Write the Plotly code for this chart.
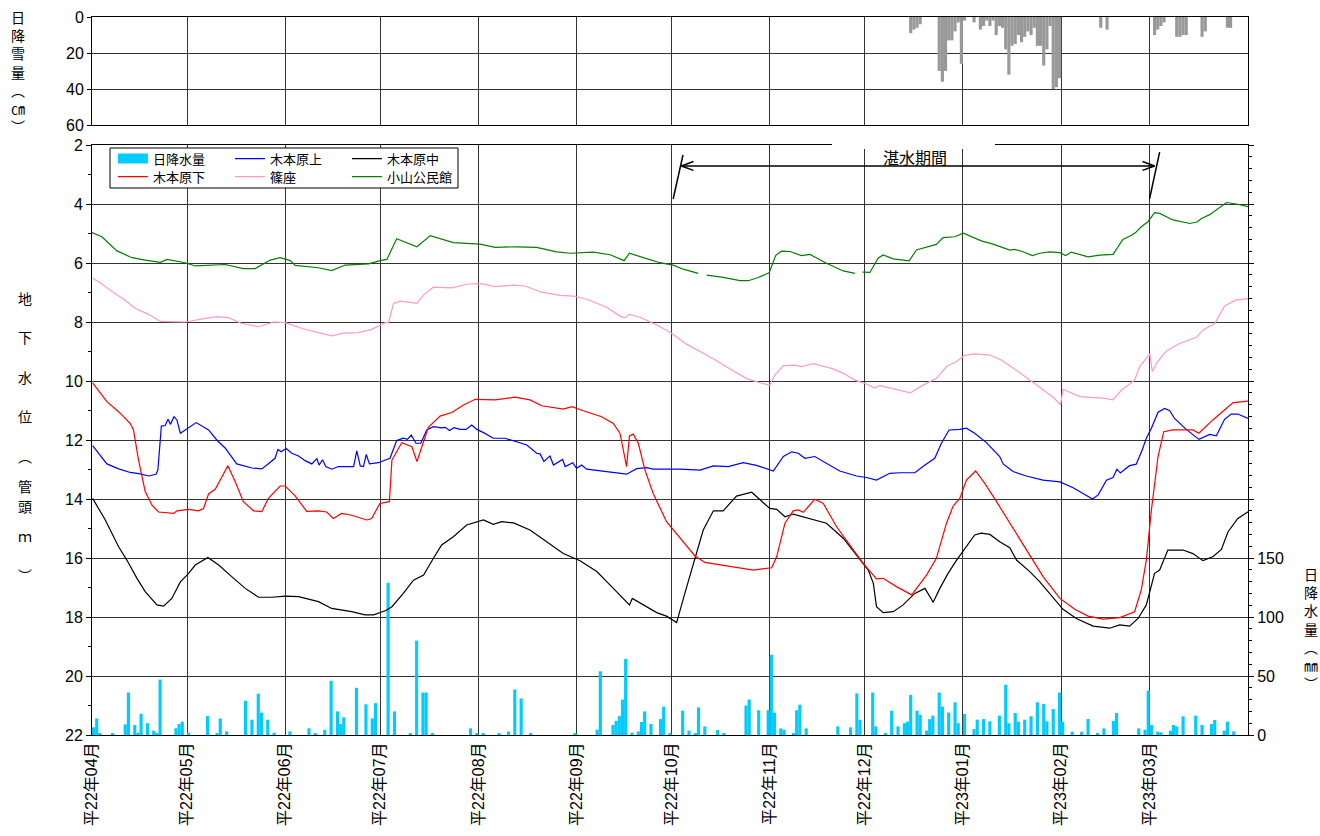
import pandas as pd
import plotly.graph_objects as go

BASE = pd.Timestamp("2010-04-01")
DAY_MS = 86400000

month_labels = ["平22年04月", "平22年05月", "平22年06月", "平22年07月", "平22年08月", "平22年09月",
                "平22年10月", "平22年11月", "平22年12月", "平23年01月", "平23年02月", "平23年03月"]

# groundwater level (m below casing top); x = days since 2010-04-01
kami_day = [0.2, 4.7, 8.4, 12.1, 15.2, 17.9, 20.2, 20.8, 21.9, 23.1, 24.0, 24.8, 25.9, 26.8, 27.9, 30.5, 32.9,
            36.8, 39.4, 42.1, 45.7, 50.5, 53.6, 55.2, 57.8, 58.7, 59.7, 61.3, 63.1, 65.2, 67.3, 69.4, 71.0,
            71.7, 72.8, 73.8, 75.7, 77.8, 82.6, 83.6, 84.7, 85.7, 86.6, 87.6, 90.5, 92.6, 94.1, 96.2, 98.3,
            99.6, 100.8, 102.3, 103.8, 105.7, 107.8, 110.4, 111.5, 112.9, 114.3, 116.2, 118.1, 119.9, 121.5,
            123.6, 126.7, 130.4, 133.1, 137.3, 140.4, 141.5, 142.7, 144.6, 145.7, 148.6, 149.4, 151.8, 153.0,
            154.6, 156.2, 160.4, 164.6, 168.8, 172.0, 175.1, 177.2, 185.6, 192.0, 196.2, 200.9, 205.6, 209.8,
            215.1, 218.3, 220.9, 223.0, 225.1, 228.2, 231.9, 236.1, 241.4, 244.5, 247.7, 251.9, 255.1, 259.8,
            263.0, 266.1, 268.2, 270.6, 274.0, 276.1, 278.7, 282.4, 286.6, 287.7, 290.8, 295.0, 300.3, 305.6,
            309.8, 315.9, 317.7, 320.3, 322.4, 323.6, 324.7, 327.6, 329.7, 331.6, 332.9, 334.5, 336.6, 338.7,
            340.3, 341.8, 345.5, 349.5, 352.9, 355.0, 357.6, 359.7, 361.8, 365.0]
kami_val = [12.19, 12.81, 12.98, 13.10, 13.15, 13.22, 13.16, 13.02, 11.53, 11.51, 11.30, 11.47, 11.21, 11.32,
            11.77, 11.58, 11.41, 11.66, 12.00, 12.28, 12.81, 12.95, 12.98, 12.85, 12.62, 12.32, 12.40, 12.29,
            12.45, 12.54, 12.70, 12.81, 12.63, 12.85, 12.67, 12.90, 12.99, 12.90, 12.90, 12.37, 12.88, 12.90,
            12.49, 12.81, 12.77, 12.68, 12.62, 12.02, 11.94, 11.98, 11.83, 12.11, 12.11, 11.66, 11.55, 11.59,
            11.57, 11.68, 11.58, 11.64, 11.64, 11.49, 11.64, 11.75, 11.94, 11.94, 12.02, 12.17, 12.45, 12.47,
            12.73, 12.54, 12.85, 12.66, 12.90, 12.77, 12.96, 12.85, 12.99, 13.05, 13.10, 13.16, 12.97, 12.94,
            12.99, 12.99, 13.02, 12.88, 12.90, 12.77, 12.86, 13.05, 12.56, 12.40, 12.45, 12.62, 12.56, 12.79,
            13.05, 13.22, 13.27, 13.36, 13.13, 13.11, 13.11, 12.85, 12.62, 12.11, 11.66, 11.64, 11.60, 11.77,
            12.09, 12.56, 12.81, 13.07, 13.22, 13.36, 13.42, 13.62, 14.00, 13.86, 13.36, 13.27, 12.99, 13.12,
            12.87, 12.82, 12.34, 11.94, 11.60, 11.06, 10.93, 11.01, 11.27, 11.64, 11.98, 11.81, 11.86, 11.30,
            11.12, 11.12, 11.27]

naka_day = [0.2, 4.2, 8.4, 11.0, 14.2, 16.8, 20.5, 22.6, 25.2, 27.9, 30.5, 32.6, 36.6, 40.0, 44.2, 48.4, 52.6,
            56.8, 61.0, 65.2, 71.5, 75.7, 82.0, 86.2, 88.9, 92.6, 94.7, 98.3, 101.5, 104.7, 107.8, 110.4,
            114.1, 118.3, 123.6, 126.7, 129.4, 133.1, 138.3, 142.5, 148.8, 154.1, 159.4, 164.6, 169.7, 170.6,
            174.1, 178.3, 181.4, 184.6, 187.2, 189.9, 193.0, 196.2, 199.3, 203.5, 208.3, 211.9, 214.0, 216.2,
            218.8, 221.4, 227.7, 231.9, 237.2, 241.4, 245.1, 246.7, 247.7, 249.8, 253.0, 256.1, 259.8, 263.0,
            265.6, 267.7, 270.3, 273.0, 276.1, 278.7, 280.8, 283.5, 286.6, 289.8, 291.9, 296.1, 299.2, 302.4,
            306.6, 310.8, 316.1, 321.3, 324.5, 327.6, 330.3, 332.9, 335.5, 337.1, 339.7, 344.5, 347.6, 350.8,
            354.0, 356.6, 358.7, 361.8, 365.0]
naka_val = [13.98, 14.71, 15.62, 16.07, 16.69, 17.14, 17.59, 17.63, 17.37, 16.81, 16.52, 16.24, 15.98, 16.24,
            16.64, 17.03, 17.33, 17.33, 17.29, 17.31, 17.48, 17.71, 17.82, 17.93, 17.93, 17.79, 17.65, 17.20,
            16.75, 16.58, 16.01, 15.56, 15.28, 14.88, 14.71, 14.86, 14.77, 14.81, 15.05, 15.37, 15.85, 16.09,
            16.46, 17.03, 17.59, 17.37, 17.59, 17.85, 17.97, 18.19, 17.19, 16.18, 15.05, 14.40, 14.40, 13.90,
            13.77, 14.12, 14.32, 14.35, 14.60, 14.51, 14.69, 14.82, 15.33, 15.90, 16.41, 16.86, 17.65, 17.85,
            17.82, 17.59, 17.20, 17.03, 17.50, 17.03, 16.52, 16.07, 15.62, 15.22, 15.16, 15.20, 15.45, 15.65,
            16.07, 16.46, 16.80, 17.20, 17.74, 18.05, 18.31, 18.38, 18.27, 18.31, 18.05, 17.59, 16.52, 16.41,
            15.73, 15.73, 15.85, 16.09, 15.95, 15.71, 15.11, 14.66, 14.43]

shimo_day = [0.2, 4.7, 8.4, 12.1, 13.1, 14.7, 16.8, 18.9, 21.0, 25.8, 26.8, 30.5, 33.6, 35.2, 36.8, 38.9, 42.9,
             45.2, 47.8, 51.0, 53.6, 55.7, 59.4, 61.0, 64.2, 67.8, 71.5, 74.1, 76.2, 78.8, 82.0, 86.8, 88.3,
             90.9, 93.9, 94.7, 97.8, 101.0, 102.6, 104.1, 106.2, 109.9, 113.6, 117.3, 121.0, 127.3, 133.6,
             138.3, 142.0, 148.8, 151.5, 155.1, 160.9, 164.6, 166.7, 168.8, 169.7, 170.9, 172.5, 174.6, 177.2,
             181.4, 185.7, 190.4, 193.5, 201.4, 208.8, 214.6, 216.2, 218.8, 221.4, 223.0, 224.6, 228.2, 230.9,
             235.1, 239.3, 243.5, 247.7, 249.8, 254.0, 258.8, 263.5, 266.6, 269.8, 271.9, 274.0, 276.1, 279.0,
             281.9, 285.6, 289.8, 295.0, 300.3, 305.6, 310.3, 314.5, 319.2, 324.5, 329.2, 331.3, 332.9, 334.5,
             336.6, 338.4, 341.3, 347.6, 349.5, 353.9, 357.1, 360.3, 365.0]
shimo_val = [10.06, 10.70, 11.04, 11.44, 11.66, 12.68, 13.75, 14.20, 14.44, 14.49, 14.40, 14.35, 14.40, 14.32,
             13.83, 13.67, 12.87, 13.41, 14.09, 14.40, 14.43, 13.98, 13.56, 13.56, 13.90, 14.42, 14.40, 14.44,
             14.66, 14.49, 14.55, 14.71, 14.66, 14.15, 14.09, 12.68, 12.09, 12.23, 12.73, 12.23, 11.57, 11.19,
             11.07, 10.81, 10.62, 10.64, 10.55, 10.64, 10.84, 10.95, 10.87, 11.01, 11.21, 11.44, 11.77, 12.90,
             11.86, 11.80, 12.11, 13.02, 13.81, 14.77, 15.33, 15.93, 16.15, 16.29, 16.41, 16.33, 15.95, 14.82,
             14.40, 14.37, 14.45, 14.01, 14.15, 14.94, 15.56, 16.18, 16.71, 16.69, 16.97, 17.25, 16.58, 16.01,
             14.82, 14.24, 13.98, 13.36, 13.05, 13.47, 14.09, 14.82, 15.73, 16.63, 17.37, 17.74, 17.97, 18.07,
             18.02, 17.82, 17.08, 16.07, 14.37, 12.56, 11.72, 11.66, 11.66, 11.77, 11.32, 11.04, 10.73, 10.68]

shinoza_day = [0.2, 2.6, 6.3, 10.0, 13.7, 17.9, 21.6, 29.4, 35.8, 39.4, 43.1, 47.3, 52.6, 57.3, 61.0, 66.3,
               71.5, 75.7, 79.4, 84.1, 88.3, 92.6, 93.6, 95.2, 97.3, 102.6, 104.7, 107.8, 113.6, 118.3, 122.3,
               127.3, 133.1, 136.7, 142.0, 147.8, 152.0, 156.2, 162.5, 166.7, 168.3, 169.7, 173.0, 178.3, 182.5,
               187.7, 193.0, 197.2, 202.0, 206.7, 210.9, 214.0, 215.6, 218.3, 221.9, 224.0, 227.7, 234.0, 237.2,
               240.9, 244.5, 246.9, 248.8, 254.0, 258.4, 262.4, 266.6, 269.8, 273.0, 275.6, 278.7, 283.5, 287.1,
               292.4, 296.1, 300.3, 303.5, 305.8, 306.6, 311.9, 315.5, 319.2, 322.4, 325.0, 329.2, 330.8, 334.0,
               334.8, 336.1, 339.2, 343.4, 348.7, 350.8, 354.5, 357.6, 361.3, 365.0]
shinoza_val = [6.52, 6.67, 6.97, 7.23, 7.54, 7.74, 7.98, 8.00, 7.88, 7.82, 7.85, 8.05, 8.16, 8.00, 8.02, 8.22,
               8.36, 8.47, 8.38, 8.36, 8.25, 8.02, 8.02, 7.37, 7.29, 7.37, 7.08, 6.82, 6.84, 6.72, 6.69, 6.80,
               6.75, 6.78, 6.99, 7.10, 7.12, 7.23, 7.50, 7.80, 7.86, 7.74, 7.84, 8.10, 8.35, 8.75, 9.06, 9.31,
               9.63, 9.92, 10.06, 10.14, 9.80, 9.48, 9.46, 9.51, 9.41, 9.59, 9.74, 9.97, 10.10, 10.23, 10.16,
               10.28, 10.40, 10.14, 9.91, 9.51, 9.34, 9.13, 9.08, 9.12, 9.29, 9.68, 9.97, 10.31, 10.55, 10.81,
               10.28, 10.53, 10.55, 10.58, 10.64, 10.31, 9.97, 9.51, 9.08, 9.68, 9.40, 8.98, 8.73, 8.52, 8.27,
               8.05, 7.46, 7.25, 7.21]

koyama_day = [0.0, 3.1, 7.9, 12.6, 16.8, 21.6, 23.7, 29.4, 32.6, 42.1, 47.8, 51.5, 56.3, 59.4, 62.6, 64.2,
              71.5, 75.7, 79.9, 87.3, 91.0, 93.1, 96.2, 102.6, 106.8, 114.1, 122.5, 127.3, 134.1, 140.4, 146.7,
              151.0, 158.3, 163.6, 168.0, 169.7, 175.1, 179.3, 183.5, 186.7, 191.4, 192.7, 194.1, 199.3, 204.6,
              207.2, 210.4, 213.8, 215.9, 217.7, 220.4, 224.0, 226.7, 231.9, 237.2, 240.9, 242.1, 243.3, 245.6,
              248.2, 249.8, 253.0, 258.0, 260.3, 266.6, 268.7, 272.4, 275.1, 277.2, 280.8, 284.5, 288.2, 289.8,
              291.4, 294.0, 296.9, 299.2, 302.4, 305.6, 307.4, 309.2, 314.5, 318.2, 322.4, 325.5, 328.2, 329.5,
              331.3, 333.4, 335.5, 337.1, 341.3, 346.6, 348.9, 350.3, 352.9, 355.0, 358.2, 361.3, 365.0]
koyama_val = [4.97, 5.11, 5.59, 5.82, 5.90, 5.98, 5.88, 5.99, 6.10, 6.05, 6.19, 6.19, 5.90, 5.82, 5.92, 6.08,
              6.16, 6.26, 6.07, 6.03, 5.92, 5.88, 5.18, 5.45, 5.07, 5.31, 5.36, 5.47, 5.45, 5.47, 5.62, 5.67,
              5.63, 5.72, 5.92, 5.67, 5.85, 5.99, 6.07, 6.21, 6.35, None, 6.41, 6.49, 6.60, 6.60, 6.49, 6.33,
              5.74, 5.60, 5.61, 5.75, 5.71, 6.01, 6.27, 6.35, None, 6.31, 6.32, 5.84, 5.73, 5.86, 5.93, 5.56,
              5.37, 5.14, 5.11, 4.99, 5.08, 5.25, 5.36, 5.50, 5.56, 5.54, 5.62, 5.75, 5.67, 5.62, 5.65, 5.75,
              5.63, 5.79, 5.73, 5.71, 5.20, 5.06, 4.97, 4.77, 4.60, 4.29, 4.32, 4.54, 4.66, 4.61, 4.49, 4.36,
              4.20, 3.95, 4.00, 4.09]

# daily precipitation (mm)
rain_day = [0, 1, 2, 6, 10, 11, 13, 14, 15, 17, 19, 20, 21, 26, 27, 28, 30, 36, 39, 40, 42, 48, 50, 52, 53, 55,
            57, 62, 68, 70, 73, 75, 77, 78, 79, 83, 86, 88, 89, 93, 95, 100, 102, 104, 105, 107, 119, 121, 123,
            128, 131, 133, 135, 138, 152, 159, 160, 164, 165, 166, 167, 168, 170, 172, 173, 174, 176, 179, 180,
            182, 186, 188, 190, 191, 193, 197, 199, 206, 207, 210, 213, 214, 215, 217, 218, 221, 222, 223, 225,
            235, 239, 241, 242, 246, 247, 250, 252, 254, 256, 257, 258, 260, 261, 263, 264, 265, 267, 268, 270,
            272, 273, 275, 278, 279, 281, 283, 286, 288, 289, 291, 292, 294, 296, 298, 300, 301, 303, 305, 306,
            309, 312, 314, 317, 319, 322, 323, 330, 332, 333, 334, 336, 337, 340, 341, 342, 344, 348, 350, 353,
            354, 357, 358, 360]
rain_mm = [6.5, 14, 1, 1, 9, 36, 8.5, 2, 18, 10, 3.7, 1, 47, 5.7, 9.3, 11.3, 2, 16, 1.4, 14, 3, 29, 13, 35, 19,
           13, 2, 3, 5.7, 1.4, 4.5, 46, 20, 9.3, 15, 40, 26, 14, 27, 129, 20, 1, 80, 36, 36, 1.4, 5.7, 1.7, 1,
           1, 3, 38.5, 31, 1, 1, 4.5, 54, 8.5, 12, 16, 30, 64.5, 2, 3, 11, 20, 9.3, 13.5, 24, 1.4, 20.6, 3.7,
           1, 23.4, 7.3, 4.2, 1.4, 25, 30, 21, 21, 68, 19, 5.6, 4.5, 1.4, 21, 25.7, 5.6, 7.3, 6.5, 35.3, 12.7,
           36, 7.3, 1, 20.6, 7.3, 10, 11.3, 34, 20.6, 17, 3.7, 13.5, 16.4, 36, 24, 19, 27.7, 10, 17.8, 5, 13,
           13.5, 11.6, 16.4, 42.6, 10, 18.6, 11.3, 13, 15.8, 27.7, 26.3, 11.6, 22, 36, 11.3, 2.8, 2.8, 13.5,
           1.4, 5.6, 12, 18.6, 5.6, 4.5, 37.6, 8.5, 2.8, 2.3, 3.7, 8.5, 7.3, 15.8, 16.4, 8.5, 9.3, 12.7, 3.7,
           11.3, 3.1]

# daily snowfall (cm)
snow_day = [258, 259, 260, 261, 267, 268, 269, 270, 271, 272, 273, 274, 275, 278, 280, 281, 282, 283, 284,
            285, 286, 287, 288, 289, 290, 291, 292, 293, 294, 295, 296, 297, 298, 299, 300, 301, 302, 303, 304,
            305, 318, 320, 335, 336, 337, 338, 342, 343, 344, 345, 350, 351, 358, 359]
snow_cm = [9, 7, 6, 4, 30, 36, 30, 13, 13, 8, 3, 26, 2, 3, 7, 5, 2, 5, 2,
           10, 5, 6, 18, 32, 16, 15, 10, 14, 11, 8, 10, 6, 16, 16, 27, 18, 5, 40, 39,
           34, 6, 7, 10, 7, 5, 3, 11, 11, 10, 10, 11, 8, 6, 6]


def to_dates(days):
    return [BASE + pd.Timedelta(days=d) if d is not None else None for d in days]


def mid_day(days):
    return [BASE + pd.Timedelta(days=d + 0.5) for d in days]


month_starts = [BASE + pd.DateOffset(months=i) for i in range(12)]
x_range = [BASE, BASE + pd.DateOffset(months=12)]

GRID = "#333333"
FONT = "Liberation Sans, Noto Sans CJK JP"
JP = "Noto Sans CJK JP, Liberation Sans"

fig = go.Figure()

fig.add_trace(go.Bar(x=mid_day(snow_day), y=snow_cm, xaxis="x", yaxis="y", width=DAY_MS,
                     marker=dict(color="#999999", line_width=0), showlegend=False))
fig.add_trace(go.Bar(x=mid_day(rain_day), y=rain_mm, xaxis="x2", yaxis="y2", width=DAY_MS,
                     marker=dict(color="#00CCFF", line_width=0), showlegend=False))

series = [
    ("木本原上", kami_day, kami_val, "#0000FF", "legend"),
    ("木本原中", naka_day, naka_val, "#000000", "legend"),
    ("木本原下", shimo_day, shimo_val, "#FF0000", "legend2"),
    ("篠座", shinoza_day, shinoza_val, "#FF99CC", "legend2"),
    ("小山公民館", koyama_day, koyama_val, "#008000", "legend2"),
]

# legend-only entry for the rainfall bars
fig.add_trace(go.Scatter(x=[None], y=[None], xaxis="x2", yaxis="y3", mode="lines", name="日降水量",
                         line=dict(color="#00CCFF", width=10), legend="legend"))
for name, d, v, c, lg in series:
    fig.add_trace(go.Scatter(x=to_dates(d), y=v, xaxis="x2", yaxis="y3", mode="lines", name=name,
                             line=dict(color=c, width=1.2), legend=lg, connectgaps=False))

main_top = (735 - 145) / 718
snow_bottom = (735 - 125) / 718

legend_common = dict(orientation="h", xanchor="left", yanchor="top", bgcolor="rgba(0,0,0,0)",
                     borderwidth=0, entrywidth=72, entrywidthmode="pixels", itemwidth=30,
                     font=dict(size=13, family=JP), tracegroupgap=0)

fig.update_layout(
    width=1320, height=836,
    margin=dict(l=92, r=72, t=17, b=101),
    plot_bgcolor="white", paper_bgcolor="white",
    font=dict(family=FONT, size=16, color="black"),
    barmode="overlay",
    xaxis=dict(domain=[0, 1], anchor="y", type="date", range=x_range, tickvals=month_starts,
               showticklabels=False, ticks="", showgrid=True, gridcolor=GRID, gridwidth=1,
               showline=True, mirror=True, linecolor="black", linewidth=1, automargin=False),
    yaxis=dict(domain=[snow_bottom, 1], anchor="x", range=[60, 0], tickvals=[0, 20, 40, 60],
               showgrid=True, gridcolor=GRID, gridwidth=1, ticks="outside", ticklen=4, tickcolor="black",
               showline=True, mirror=True, linecolor="black", linewidth=1, zeroline=False,
               automargin=False, tickfont=dict(size=16)),
    xaxis2=dict(domain=[0, 1], anchor="y2", type="date", range=x_range, tickvals=month_starts,
                ticktext=month_labels, tickangle=-90, ticks="", showgrid=True, gridcolor=GRID, gridwidth=1,
                showline=True, mirror=True, linecolor="black", linewidth=1, automargin=False,
                tickfont=dict(size=16, family=FONT)),
    yaxis2=dict(domain=[0, main_top], anchor="x2", side="right", range=[0, 500],
                tickvals=list(range(0, 501, 50)),
                ticktext=[str(v) if v <= 150 else "" for v in range(0, 501, 50)],
                ticks="outside", ticklen=5, tickcolor="black", showgrid=False, zeroline=False,
                showline=True, linecolor="black", linewidth=1, automargin=False,
                minor=dict(tickmode="linear", tick0=0, dtick=10, ticks="outside", ticklen=3,
                           tickcolor="black", showgrid=False),
                tickfont=dict(size=16)),
    yaxis3=dict(overlaying="y2", anchor="x2", side="left", range=[22, 2], tickvals=list(range(2, 23, 2)),
                showgrid=True, gridcolor=GRID, gridwidth=1, ticks="outside", ticklen=5, tickcolor="black",
                zeroline=False, showline=True, linecolor="black", linewidth=1, automargin=False,
                minor=dict(tickmode="linear", tick0=1, dtick=1, ticks="outside", ticklen=3,
                           tickcolor="black", showgrid=False),
                tickfont=dict(size=16)),
    legend=dict(x=0.0181, y=0.8236, **legend_common),
    legend2=dict(x=0.0181, y=0.7986, **legend_common),
)


def px_x(p):
    return (p - 92) / 1156


def px_y(p):
    return (735 - p) / 718


def dd(day):
    return BASE + pd.Timedelta(days=day)


shapes = [
    # legend box
    dict(type="rect", xref="paper", yref="paper", x0=px_x(110), x1=px_x(458), y0=px_y(188), y1=px_y(148),
         fillcolor="white", line=dict(color="black", width=1), layer="above"),
    # gap in the frame behind the flooding-period label
    dict(type="rect", xref="paper", yref="paper", x0=px_x(832), x1=px_x(995), y0=px_y(149), y1=px_y(141),
         fillcolor="white", line=dict(width=0), layer="above"),
]
# flooding period markers and double arrow
arrow_y = 2.71
for d0, y0, d1, y1 in [(183.5, 3.83, 186.6, 2.34), (333.9, 3.83, 337.1, 2.24),
                       (186.1, arrow_y, 335.5, arrow_y),
                       (186.1, arrow_y, 189.9, arrow_y - 0.15), (186.1, arrow_y, 189.9, arrow_y + 0.15),
                       (335.5, arrow_y, 331.7, arrow_y - 0.15), (335.5, arrow_y, 331.7, arrow_y + 0.15)]:
    shapes.append(dict(type="line", xref="x2", yref="y3", x0=dd(d0), y0=y0, x1=dd(d1), y1=y1,
                       line=dict(color="black", width=1.5), layer="above"))
fig.update_layout(shapes=shapes)

annotations = [
    dict(text="湛水期間", xref="x2", yref="y3", x=dd(259.8), y=2.41, showarrow=False,
         font=dict(size=16, family=JP)),
    dict(text="日<br>降<br>雪<br>量<br>︵<br>㎝<br>︶", xref="paper", yref="paper", x=px_x(18), y=px_y(72),
         xanchor="center", yanchor="middle", showarrow=False, font=dict(size=14, family=JP)),
    dict(text="日<br>降<br>水<br>量<br>︵<br>㎜<br>︶", xref="paper", yref="paper", x=px_x(1311), y=px_y(628),
         xanchor="center", yanchor="middle", showarrow=False, font=dict(size=14, family=JP)),
]
for ch, py in zip(["地", "下", "水", "位", "︵", "管", "頭", "ｍ", "︶"],
                  [298, 337, 377, 416, 456, 486, 506, 536, 575]):
    annotations.append(dict(text=ch, xref="paper", yref="paper", x=px_x(25), y=px_y(py), showarrow=False,
                            xanchor="center", yanchor="middle", font=dict(size=14, family=JP)))
fig.update_layout(annotations=annotations)

# drop the default page margin so the figure fills the window exactly
fig.write_html("out.html", config={"displayModeBar": False},
               post_script="document.body.style.margin='0';document.body.style.overflow='hidden';")
